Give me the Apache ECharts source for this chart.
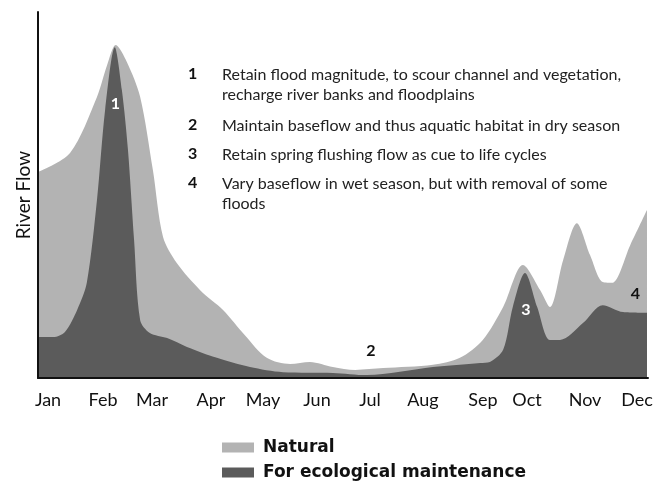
<!DOCTYPE html>
<html>
<head>
<meta charset="utf-8">
<script src="https://cdn.jsdelivr.net/npm/echarts@6/dist/echarts.min.js"></script>
<style>
  html, body { margin: 0; padding: 0; background: #fff; }
  #chart { width: 662px; height: 481px; }
</style>
</head>
<body>
<div id="chart"></div>
<script>
// x is time in months (0 = start of Jan, 12 = end of Dec), y is relative flow 0-100
const naturalX = [0, 0.63, 1.16, 1.36, 1.53, 1.75, 2.01, 2.26, 2.46, 2.73, 3.19, 3.64, 4.07, 4.5, 4.96, 5.35, 5.8, 6.24, 6.79, 7.77, 8.3, 8.75, 9.15, 9.54, 9.88, 10.07, 10.33, 10.6, 10.86, 11.11, 11.29, 11.65, 11.98]
const naturalY = [56.3, 61.5, 76.8, 85.5, 91.0, 86.3, 76.8, 56.8, 38.5, 31.4, 24.0, 18.6, 11.7, 5.5, 3.8, 4.4, 3.0, 2.2, 2.7, 3.6, 5.5, 10.4, 19.4, 30.9, 24.0, 19.4, 32.2, 42.3, 33.6, 26.2, 26.0, 36.3, 45.9]

const ecoX = [0, 0.3, 0.53, 0.77, 0.96, 1.16, 1.32, 1.51, 1.65, 1.77, 1.89, 2.01, 2.2, 2.54, 2.93, 3.52, 4.17, 4.82, 5.8, 6.47, 7.77, 8.7, 8.89, 9.15, 9.34, 9.58, 9.82, 10.07, 10.27, 10.72, 11.11, 11.51, 11.98]
const ecoY = [11.2, 11.2, 12.6, 18.6, 26.0, 48.6, 73.2, 90.4, 78.7, 62.3, 37.7, 15.8, 12.3, 10.9, 8.5, 5.5, 3.0, 1.6, 1.4, 0.8, 3.0, 4.1, 4.4, 7.7, 19.4, 28.7, 19.4, 10.4, 10.4, 15.0, 19.9, 18.0, 17.8]

// month labels are not evenly spaced in the original
const monthNames = ['Jan', 'Feb', 'Mar', 'Apr', 'May', 'Jun', 'Jul', 'Aug', 'Sep', 'Oct', 'Nov', 'Dec']
const monthPos = [0.197, 1.279, 2.243, 3.403, 4.426, 5.488, 6.531, 7.574, 8.754, 9.62, 10.761, 11.784]

const notes = [
  ['1', 'Retain flood magnitude, to scour channel and vegetation,\nrecharge river banks and floodplains'],
  ['2', 'Maintain baseflow and thus aquatic habitat in dry season'],
  ['3', 'Retain spring flushing flow as cue to life cycles'],
  ['4', 'Vary baseflow in wet season, but with removal of some\nfloods']
]
const noteTops = [65, 116, 145, 174]

const FONT = 'Lato, "Open Sans", sans-serif'
const LIGHT = '#b3b3b3'
const DARK = '#5b5b5b'

const zip = (xs, ys) => xs.map((x, i) => [x, ys[i]])

const chart = echarts.init(document.getElementById('chart'))

const graphics = []
notes.forEach((n, i) => {
  graphics.push({
    type: 'text', left: 188, top: noteTops[i] + 1,
    style: { text: n[0], font: 'bold 16px ' + FONT, fill: '#111' }
  })
  graphics.push({
    type: 'text', left: 222, top: noteTops[i],
    style: { text: n[1], font: '16px ' + FONT, fill: '#222', lineHeight: 20 }
  })
})

// one legend per row so they stack like the original
const legendBase = {
  orient: 'vertical', left: 222, padding: 0,
  itemWidth: 32, itemHeight: 10,
  textStyle: {
    fontFamily: '"DejaVu Sans", sans-serif', fontSize: 17, fontWeight: 'bold', color: '#111',
    lineHeight: 16, padding: [0, 0, 0, 4]
  }
}

const option = {
  animation: false,
  backgroundColor: '#fff',
  grid: { left: 38, right: 14, top: 12, bottom: 103, outerBoundsMode: 'none' },
  xAxis: {
    type: 'value', min: 0, max: 12, z: 5,
    axisLine: { show: true, lineStyle: { color: '#111', width: 2 } },
    axisTick: { show: false },
    splitLine: { show: false },
    axisLabel: {
      customValues: monthPos,
      formatter: v => monthNames[monthPos.indexOf(v)],
      color: '#111', fontSize: 18, fontFamily: FONT, margin: 13
    }
  },
  yAxis: {
    type: 'value', min: 0, max: 100, z: 5,
    name: 'River Flow', nameLocation: 'middle', nameGap: 5,
    nameTextStyle: { color: '#111', fontSize: 19, fontFamily: FONT },
    axisLine: { show: true, lineStyle: { color: '#111', width: 2 } },
    axisTick: { show: false },
    axisLabel: { show: false },
    splitLine: { show: false }
  },
  legend: [
    Object.assign({}, legendBase, { top: 439, data: [{ name: 'Natural', icon: 'rect' }] }),
    Object.assign({}, legendBase, { top: 464, data: [{ name: 'For ecological maintenance', icon: 'rect' }] })
  ],
  series: [
    {
      name: 'Natural', type: 'line', smooth: 0.3, symbol: 'none',
      color: LIGHT,
      lineStyle: { width: 0 },
      areaStyle: { color: LIGHT, opacity: 1 },
      data: zip(naturalX, naturalY)
    },
    {
      name: 'For ecological maintenance', type: 'line', smooth: 0.3, symbol: 'none',
      color: DARK,
      lineStyle: { width: 0 },
      areaStyle: { color: DARK, opacity: 1 },
      data: zip(ecoX, ecoY)
    }
  ],
  graphic: graphics
}
chart.setOption(option)

// numbered callouts inside the plot, placed in data space
const callouts = [
  { t: '1', at: [1.52, 75], fill: '#fff' },
  { t: '2', at: [6.55, 7.5], fill: '#111' },
  { t: '3', at: [9.6, 18.5], fill: '#fff' },
  { t: '4', at: [11.75, 23], fill: '#111' }
]
chart.setOption({
  graphic: graphics.concat(callouts.map(c => {
    const p = chart.convertToPixel({ gridIndex: 0 }, c.at)
    return {
      type: 'text', x: p[0], y: p[1], z: 10,
      style: { text: c.t, font: 'bold 16px ' + FONT, fill: c.fill, align: 'center', verticalAlign: 'middle' }
    }
  }))
})
</script>
</body>
</html>
